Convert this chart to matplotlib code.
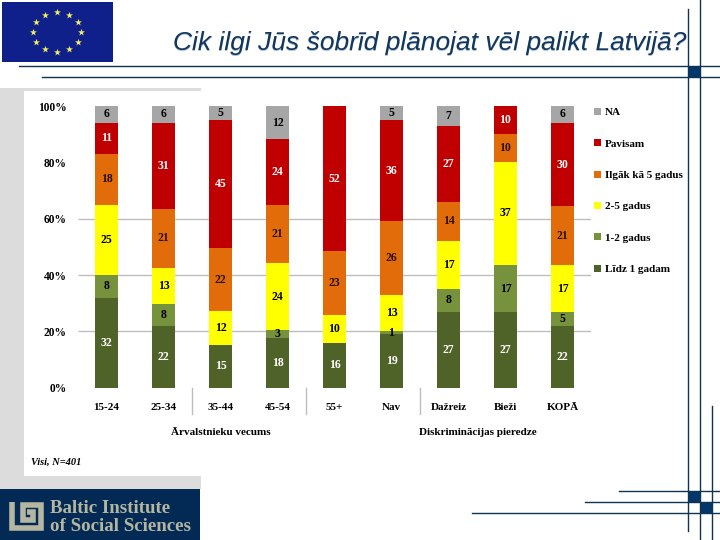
import numpy as np
import matplotlib
matplotlib.use('Agg')
import matplotlib.pyplot as plt
from matplotlib.patches import Rectangle

# dati
categories = ['15-24', '25-34', '35-44', '45-54', '55+', 'Nav', 'Dažreiz', 'Bieži', 'KOPĀ']
lidz_1 = [32, 22, 15, 18, 16, 19, 27, 27, 22]
gadi_1_2 = [8, 8, 0, 3, 0, 1, 8, 17, 5]
gadi_2_5 = [25, 13, 12, 24, 10, 13, 17, 37, 17]
ilgak_5 = [18, 21, 22, 21, 23, 26, 14, 10, 21]
pavisam = [11, 31, 45, 24, 52, 36, 27, 10, 30]
na = [6, 6, 5, 12, 0, 5, 7, 0, 6]
series_names = ['Līdz 1 gadam', '1-2 gadus', '2-5 gadus', 'Ilgāk kā 5 gadus', 'Pavisam', 'NA']
y_ticks = [0, 20, 40, 60, 80, 100]
grid_values = [20, 40, 60]
separators = [1.5, 3.5, 5.5]

colors = ['#4f6228', '#76923c', '#ffff00', '#e36c0a', '#c00000', '#a6a6a6']
label_colors = ['white', 'black', 'black', '#2a1000', 'white', 'black']
navy = '#0f3350'
serif = 'Liberation Serif'

fig = plt.figure(figsize=(7.2, 5.4), dpi=100)

# fons un dekorācijas pikseļos
bg = fig.add_axes([0, 0, 1, 1], zorder=0)
bg.set_xlim(0, 720)
bg.set_ylim(540, 0)
bg.axis('off')
bg.add_patch(Rectangle((0, 88), 201, 401, color='#dcdcdc', lw=0))
bg.add_patch(Rectangle((24, 91), 177, 385, color='white', lw=0))

# ES karogs
bg.add_patch(Rectangle((2, 2), 111, 60, color='#10208a', lw=0))
angles = np.deg2rad(np.arange(0, 360, 30))
bg.scatter(57 + 24 * np.cos(angles), 32 + 20 * np.sin(angles), marker='*', s=28, color='#f5f060', lw=0)

# virsraksts
title = 'Cik ilgi Jūs šobrīd plānojat vēl palikt Latvijā?'
bg.text(686.8, 50.8, title, ha='right', va='baseline', family='Liberation Sans', style='italic',
        fontsize=19, color='#a9bdd6')
bg.text(686, 50, title, ha='right', va='baseline', family='Liberation Sans', style='italic',
        fontsize=19, color='#12365c')

# līnijas
for y, x0 in [(65.5, 19), (77, 42), (491, 619), (502, 585), (513, 472)]:
    bg.plot([x0, 720], [y, y], color=navy, lw=1)
bg.plot([688, 688], [9, 531], color=navy, lw=1)
bg.plot([700, 700], [0, 540], color=navy, lw=1)
bg.plot([711.5, 711.5], [406, 540], color=navy, lw=1)
for x, y in [(688, 65.5), (688, 491), (700, 502)]:
    bg.add_patch(Rectangle((x, y), 12, 11.5, color='#03376c', lw=0))

# logo
bg.add_patch(Rectangle((0, 489), 200, 51, color='#022a55', lw=0))
beige = '#b5b6a0'
bg.plot([12, 12, 41, 41, 23, 23, 33, 33, 27], [501.5, 528, 528, 504.5, 504.5, 520, 520, 512, 512],
        color=beige, lw=4, solid_joinstyle='miter', solid_capstyle='butt')
bg.text(50, 513, 'Baltic Institute', family='Liberation Serif', weight='bold', fontsize=13.6, color=beige)
bg.text(50, 530.7, 'of Social Sciences', family='Liberation Serif', weight='bold', fontsize=13.6, color=beige)
bg.text(31, 465, 'Visi, N=401', family=serif, style='italic', weight='bold', fontsize=7.5, color='black')

# galvenais grafiks
ax = fig.add_axes([78 / 720, (540 - 387.7) / 540, 513 / 720, 281.7 / 540], zorder=1)
ax.patch.set_alpha(0)
series = np.array([lidz_1, gadi_1_2, gadi_2_5, ilgak_5, pavisam, na], dtype=float)
shares = series / series.sum(axis=0) * 100
x = np.arange(len(categories))

ax.hlines(grid_values, -0.5, 8.5, color='#bdbdbd', lw=1, zorder=1)
bottom = np.zeros(len(categories))
for i, name in enumerate(series_names):
    ax.bar(x, shares[i], 0.405, bottom=bottom, color=colors[i], label=name, zorder=2)
    for j in x:
        if series[i, j] > 0:
            ax.text(j, bottom[j] + shares[i, j] / 2, '%d' % series[i, j], ha='center', va='center',
                    family=serif, weight='bold', fontsize=8.5, color=label_colors[i], zorder=3)
    bottom += shares[i]

ax.set_xlim(-0.5, 8.5)
ax.set_ylim(0, 100)
ax.set_xticks(x)
ax.set_xticklabels(categories, family=serif, weight='bold', fontsize=8)
ax.set_yticks(y_ticks)
ax.set_yticklabels(['%d%%' % v for v in y_ticks], family=serif, weight='bold', fontsize=8.3)
ax.tick_params(length=0)
ax.tick_params(axis='x', pad=11)
ax.tick_params(axis='y', pad=8)
for s in ax.spines.values():
    s.set_visible(False)

for s in separators:
    ax.plot([s, s], [0, -9.4], color='#bdbdbd', lw=1, clip_on=False)
ax.text(2, -15.8, 'Ārvalstnieku vecums', ha='center', va='center', family=serif, weight='bold', fontsize=8)
ax.text(6.52, -15.8, 'Diskriminācijas pieredze', ha='center', va='center', family=serif, weight='bold', fontsize=8)

handles, labels = ax.get_legend_handles_labels()
ax.legend(handles[::-1], labels[::-1], loc='upper left', bbox_to_anchor=(1.0, 1.005), frameon=False,
          prop={'family': serif, 'weight': 'bold', 'size': 8}, handlelength=0.6, handleheight=0.6,
          handletextpad=0.35, labelspacing=1.97, borderaxespad=0, borderpad=0.3)

fig.savefig('out.png', dpi=100)
